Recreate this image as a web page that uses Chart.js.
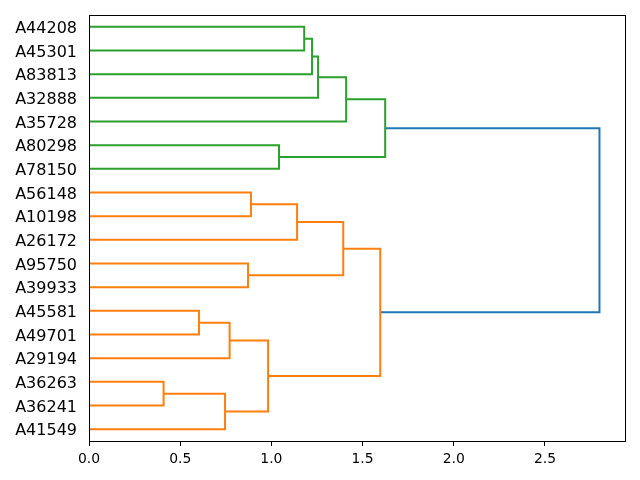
<!DOCTYPE html>
<html>
<head>
<meta charset="utf-8">
<script src="https://cdn.jsdelivr.net/npm/chart.js@4"></script>
<style>
  html, body { margin: 0; padding: 0; background: #fff; }
  canvas { display: block; }
</style>
</head>
<body>
<canvas id="c" width="640" height="480"></canvas>
<script>
// leaves, bottom to top (leaf i sits at y = 5 + 10*i)
const leafLabels = ['A41549', 'A36241', 'A36263', 'A29194', 'A49701', 'A45581',
  'A39933', 'A95750', 'A26172', 'A10198', 'A56148', 'A78150', 'A80298',
  'A35728', 'A32888', 'A83813', 'A45301', 'A44208'];

// linkage: cluster 18+k joins mergeA[k] and mergeB[k] at mergeHeight[k]
const mergeA = [1, 4, 18, 19, 6, 9, 20, 11, 23, 16, 27, 28, 26, 29, 24, 31, 33];
const mergeB = [2, 5, 0, 3, 7, 10, 21, 12, 8, 17, 15, 14, 22, 13, 30, 25, 32];
const mergeHeight = [0.409, 0.603, 0.746, 0.771, 0.872, 0.888, 0.982, 1.042, 1.141,
  1.180, 1.223, 1.256, 1.394, 1.410, 1.597, 1.624, 2.799];
const mergeColor = ['C1', 'C1', 'C1', 'C1', 'C1', 'C1', 'C1', 'C2', 'C1',
  'C2', 'C2', 'C2', 'C1', 'C2', 'C1', 'C2', 'C0'];

const xTicks = [0, 0.5, 1.0, 1.5, 2.0, 2.5];

const palette = { C0: '#1f77b4', C1: '#ff7f0e', C2: '#2ca02c' };

const leafPos = leafLabels.map((_, i) => 5 + 10 * i);
const nodeY = leafPos.slice();
const nodeX = leafPos.map(() => 0);
const datasets = [];
mergeA.forEach((a, k) => {
  const b = mergeB[k], h = mergeHeight[k];
  datasets.push({
    data: [
      { x: nodeX[a], y: nodeY[a] },
      { x: h, y: nodeY[a] },
      { x: h, y: nodeY[b] },
      { x: nodeX[b], y: nodeY[b] }
    ],
    borderColor: palette[mergeColor[k]],
    borderWidth: 2,
    showLine: true,
    pointRadius: 0,
    borderJoinStyle: 'miter',
    borderCapStyle: 'butt'
  });
  nodeY.push((nodeY[a] + nodeY[b]) / 2);
  nodeX.push(h);
});

const frame = {
  id: 'frame',
  afterDraw(chart) {
    const { ctx, chartArea: a } = chart;
    ctx.save();
    ctx.strokeStyle = '#000';
    ctx.lineWidth = 1;
    ctx.strokeRect(Math.round(a.left) + 0.5, Math.round(a.top) + 0.5,
      Math.round(a.right - a.left), Math.round(a.bottom - a.top));
    ctx.restore();
  }
};

new Chart(document.getElementById('c'), {
  type: 'scatter',
  data: { datasets },
  plugins: [frame],
  options: {
    responsive: false,
    animation: false,
    layout: { padding: { top: 15, right: 15, left: 0, bottom: 0 } },
    plugins: { legend: { display: false }, tooltip: { enabled: false } },
    scales: {
      x: {
        type: 'linear',
        min: 0,
        max: 2.939,
        afterBuildTicks: s => { s.ticks = xTicks.map(v => ({ value: v })); },
        afterFit: s => { s.height = 39; },
        ticks: {
          color: '#000',
          font: { family: 'DejaVu Sans', size: 13.9 },
          padding: 5,
          maxRotation: 0,
          callback: v => Number(v).toFixed(1)
        },
        grid: { drawOnChartArea: false, drawTicks: true, tickLength: 5, color: '#000' },
        border: { display: false }
      },
      y: {
        type: 'linear',
        min: 0,
        max: 180,
        afterBuildTicks: s => { s.ticks = leafPos.map(v => ({ value: v })); },
        afterFit: s => { s.width = 89; },
        ticks: {
          color: '#000',
          autoSkip: false,
          font: { family: 'DejaVu Sans', size: 16 },
          padding: 0,
          labelOffset: 2,
          callback: v => leafLabels[leafPos.indexOf(v)]
        },
        grid: { display: false, drawTicks: true, tickLength: 12 },
        border: { display: false }
      }
    }
  }
});
</script>
</body>
</html>
